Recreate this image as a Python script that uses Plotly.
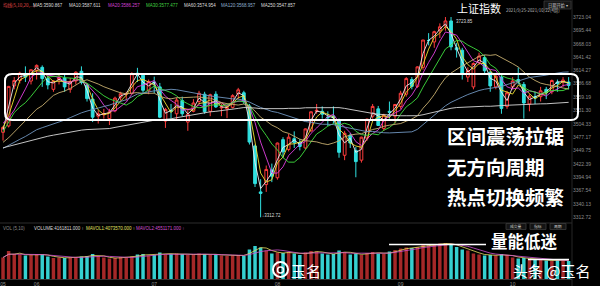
import plotly.graph_objects as go
import pandas as pd

# ---------------- data (daily) ----------------
dates = ["05-24","05-25","05-26","05-27","05-28","05-31",
 "06-01","06-02","06-03","06-04","06-07","06-08","06-09","06-10","06-11","06-15","06-16","06-17","06-18","06-21","06-22","06-23","06-24","06-25","06-28","06-29","06-30",
 "07-01","07-02","07-05","07-06","07-07","07-08","07-09","07-12","07-13","07-14","07-15","07-16","07-19","07-20","07-21","07-22","07-23","07-26","07-27","07-28","07-29","07-30",
 "08-02","08-03","08-04","08-05","08-06","08-09","08-10","08-11","08-12","08-13","08-16","08-17","08-18","08-19","08-20","08-23","08-24","08-25","08-26","08-27","08-30","08-31",
 "09-01","09-02","09-03","09-06","09-07","09-08","09-09","09-10","09-13","09-14","09-15","09-16","09-17","09-22","09-23","09-24","09-27","09-28","09-29","09-30",
 "10-08","10-11","10-12","10-13","10-14","10-15","10-18","10-19","10-20","10-21","10-22"]

opens = [3487, 3500, 3582, 3593, 3604, 3592,
 3614, 3620, 3597, 3575, 3595, 3598, 3575, 3592, 3612, 3584, 3555, 3520, 3523, 3515, 3531, 3559, 3565, 3566, 3608, 3604, 3572,
 3590, 3580, 3510, 3532, 3525, 3552, 3508, 3530, 3550, 3565, 3530, 3565, 3537, 3535, 3538, 3566, 3568, 3541, 3459, 3365, 3380, 3410,
 3394, 3472, 3452, 3474, 3466, 3455, 3490, 3530, 3530, 3518, 3520, 3512, 3440, 3481, 3450, 3430, 3475, 3520, 3535, 3495, 3530, 3520,
 3540, 3565, 3595, 3581, 3620, 3675, 3672, 3695, 3705, 3715, 3660, 3655, 3600, 3580, 3630, 3640, 3610, 3580, 3600, 3540,
 3580, 3595, 3585, 3545, 3560, 3560, 3575, 3570, 3590, 3590, 3590]

highs = [3500, 3582, 3600, 3611, 3622, 3616,
 3626, 3624, 3602, 3594, 3608, 3605, 3598, 3612, 3622, 3587, 3567, 3532, 3535, 3535, 3560, 3570, 3570, 3610, 3619, 3606, 3595,
 3601, 3588, 3537, 3545, 3558, 3560, 3535, 3555, 3572, 3570, 3566, 3571, 3545, 3540, 3565, 3578, 3572, 3545, 3462, 3391, 3419, 3423,
 3466, 3477, 3484, 3489, 3473, 3495, 3530, 3545, 3540, 3530, 3540, 3515, 3490, 3485, 3457, 3478, 3515, 3545, 3541, 3525, 3550, 3545,
 3572, 3600, 3600, 3622, 3676, 3690, 3695, 3710, 3723, 3723, 3670, 3660, 3620, 3630, 3650, 3645, 3612, 3605, 3605, 3572,
 3600, 3620, 3590, 3565, 3570, 3580, 3580, 3595, 3595, 3600, 3600]

lows = [3470, 3497, 3575, 3587, 3590, 3585,
 3595, 3580, 3575, 3570, 3585, 3570, 3568, 3585, 3585, 3550, 3508, 3505, 3515, 3502, 3528, 3552, 3552, 3566, 3590, 3568, 3565,
 3567, 3516, 3496, 3515, 3512, 3520, 3490, 3528, 3545, 3525, 3520, 3537, 3520, 3516, 3536, 3555, 3545, 3462, 3375, 3313, 3365, 3385,
 3390, 3435, 3448, 3455, 3450, 3452, 3488, 3525, 3515, 3500, 3505, 3435, 3430, 3455, 3395, 3425, 3470, 3515, 3500, 3490, 3515, 3505,
 3535, 3560, 3575, 3578, 3615, 3665, 3660, 3680, 3695, 3655, 3640, 3595, 3590, 3575, 3625, 3605, 3570, 3575, 3525, 3535,
 3575, 3585, 3515, 3530, 3545, 3550, 3555, 3565, 3570, 3580, 3575]

closes = [3497, 3581, 3593, 3608, 3600, 3615,
 3624, 3597, 3584, 3592, 3599, 3580, 3591, 3610, 3589, 3556, 3518, 3525, 3525, 3529, 3557, 3566, 3566, 3607, 3606, 3573, 3591,
 3588, 3518, 3534, 3530, 3553, 3525, 3524, 3547, 3567, 3529, 3564, 3539, 3539, 3537, 3562, 3574, 3550, 3467, 3382, 3362, 3411, 3397,
 3465, 3447, 3477, 3466, 3458, 3494, 3529, 3532, 3524, 3517, 3517, 3446, 3485, 3465, 3427, 3477, 3514, 3540, 3501, 3522, 3528, 3544,
 3567, 3597, 3581, 3621, 3676, 3675, 3693, 3703, 3715, 3662, 3656, 3608, 3613, 3628, 3643, 3613, 3582, 3602, 3536, 3568,
 3592, 3591, 3547, 3561, 3558, 3572, 3568, 3593, 3587, 3594, 3583]

volumes = [4300, 5600, 5000, 4900, 4700, 4800,
 5000, 4900, 4500, 4200, 4300, 4200, 4300, 4400, 4500, 4600, 5000, 4600, 4300, 4100, 4200, 4400, 4300, 4500, 4900, 5000, 4700,
 4800, 5300, 4900, 5000, 5100, 5000, 4800, 4900, 5100, 5000, 4800, 5000, 4700, 4600, 4700, 4800, 4600, 5900, 6600, 6300, 5700, 5100,
 5300, 5200, 5400, 5100, 4800, 5300, 5600, 5500, 5100, 4900, 5000, 5700, 5400, 4900, 5100, 4800, 5200, 5400, 5100, 5000, 5500, 5800,
 6100, 6300, 6200, 6400, 6900, 6700, 7000, 7100, 7200, 6900, 6400, 5900, 5700, 5100, 4900, 4700, 4800, 4700, 5000, 4800,
 4300, 4100, 4200, 4000, 3900, 3800, 3700, 3600, 3900, 3700, 3600]

# closes before the visible window (only used to warm up the moving averages)
history_closes = [3418, 3435, 3457, 3441, 3466, 3484, 3483, 3450, 3482, 3479,
 3450, 3412, 3396, 3416, 3426, 3399, 3426, 3472, 3477, 3472,
 3465, 3474, 3441, 3446, 3457, 3447, 3441, 3418, 3428, 3447,
 3427, 3442, 3490, 3430, 3429, 3517, 3529, 3510, 3506, 3486]

ma_names = ["MA5", "MA10", "MA20", "MA30", "MA60", "MA120", "MA250"]
ma_windows = [2, 3, 5, 8, 15, 30, 60]
ma_colors = ["#eeeeee", "#f0e030", "#e040e0", "#40e040", "#c8b070", "#6f95c0", "#d8d8d8"]

month_ticks = [0, 6, 27, 49, 71, 91]
month_labels = ["05", "06", "07", "08", "09", "10"]

price_ticks = [3723.04, 3695.44, 3668.03, 3641.42, 3614.27, 3586.68, 3559.19, 3531.30,
               3504.33, 3477.17, 3449.75, 3422.39, 3394.94, 3367.54, 3340.13, 3312.72]

n = len(dates)
for arr in (opens, highs, lows, closes, volumes):
    assert len(arr) == n, len(arr)

idx = list(range(n))
W, H = 600, 286
CJK = "Noto Sans CJK SC"


def px(xp):
    return xp / W


def py(yp):
    return 1 - yp / H


fig = go.Figure()

fig.add_trace(go.Candlestick(
    x=idx, open=opens, high=highs, low=lows, close=closes,
    increasing=dict(line=dict(color="#ff3c3c", width=1), fillcolor="#000000"),
    decreasing=dict(line=dict(color="#30e0e0", width=1), fillcolor="#30e0e0"),
    whiskerwidth=0, xaxis="x", yaxis="y", showlegend=False, hoverinfo="skip"))

full = pd.Series(history_closes + closes, dtype=float)
off = len(history_closes)
for name, w, c in zip(ma_names, ma_windows, ma_colors):
    ma = full.rolling(w, min_periods=1).mean().iloc[off:].tolist()
    fig.add_trace(go.Scatter(x=idx, y=ma, mode="lines", line=dict(color=c, width=0.9),
                             xaxis="x", yaxis="y", showlegend=False, hoverinfo="skip"))

vol_colors = ["#a52828" if c >= o else "#35d0d0" for o, c in zip(opens, closes)]
fig.add_trace(go.Bar(x=idx, y=volumes, marker=dict(color=vol_colors, line=dict(width=0)),
                     width=0.62, xaxis="x2", yaxis="y2", showlegend=False, hoverinfo="skip"))
vs = pd.Series(volumes, dtype=float)
fig.add_trace(go.Scatter(x=idx, y=vs.rolling(3, min_periods=1).mean().tolist(), mode="lines",
                         line=dict(color="#e8e060", width=0.8), xaxis="x2", yaxis="y2",
                         showlegend=False, hoverinfo="skip"))
fig.add_trace(go.Scatter(x=idx, y=vs.rolling(6, min_periods=1).mean().tolist(), mode="lines",
                         line=dict(color="#d050d0", width=0.8), xaxis="x2", yaxis="y2",
                         showlegend=False, hoverinfo="skip"))

xr = [-0.54, 101.6]
xdom = [0, 572 / W]
fig.update_layout(
    width=W, height=H, margin=dict(l=0, r=0, t=0, b=0),
    paper_bgcolor="#000000", plot_bgcolor="#000000",
    bargap=0.3,
    xaxis=dict(domain=xdom, range=xr, anchor="y", showticklabels=False, showgrid=False,
               zeroline=False, rangeslider=dict(visible=False), fixedrange=True),
    yaxis=dict(domain=[py(222), py(12)], range=[3303.4, 3733.3], side="right",
               tickvals=price_ticks, ticktext=[f"{v:.2f}" for v in price_ticks],
               tickfont=dict(size=5, color="#8c8c8c", family="Arial"), showgrid=False,
               zeroline=False, ticks="", anchor="x"),
    xaxis2=dict(domain=xdom, range=xr, anchor="y2", tickvals=month_ticks, ticktext=month_labels,
                tickfont=dict(size=5, color="#8c8c8c", family="Arial"), showgrid=False,
                zeroline=False, ticks="", ticklabelstandoff=1),
    yaxis2=dict(domain=[py(279), py(234)], range=[0, 9000], side="right", showticklabels=False,
                showgrid=False, zeroline=False, anchor="x2"),
)

shapes = []
# pane separators
shapes.append(dict(type="line", xref="paper", yref="paper", x0=0, x1=px(572), y0=py(223), y1=py(223),
                   line=dict(color="#2c2c2c", width=1)))
shapes.append(dict(type="line", xref="paper", yref="paper", x0=px(572), x1=px(572), y0=0, y1=1,
                   line=dict(color="#262626", width=1)))
shapes.append(dict(type="line", xref="paper", yref="paper", x0=0, x1=px(572), y0=py(279.5), y1=py(279.5),
                   line=dict(color="#333333", width=1)))

# rounded highlight rectangle
x0, x1, y0, y1, r = 5, 578, 74, 120, 7
rx, ry = r / W, r / H
X0, X1, Yt, Yb = px(x0), px(x1), py(y0), py(y1)
path = (f"M {X0+rx},{Yt} L {X1-rx},{Yt} Q {X1},{Yt} {X1},{Yt-ry} "
        f"L {X1},{Yb+ry} Q {X1},{Yb} {X1-rx},{Yb} L {X0+rx},{Yb} Q {X0},{Yb} {X0},{Yb+ry} "
        f"L {X0},{Yt-ry} Q {X0},{Yt} {X0+rx},{Yt} Z")
shapes.append(dict(type="path", xref="paper", yref="paper", path=path,
                   line=dict(color="#ffffff", width=2)))

# volume annotation lines
shapes.append(dict(type="line", xref="paper", yref="paper", x0=px(389), x1=px(486), y0=py(244.5), y1=py(244.5),
                   line=dict(color="#ffffff", width=1.5)))
shapes.append(dict(type="line", xref="paper", yref="paper", x0=px(528), x1=px(569), y0=py(259.5), y1=py(259.5),
                   line=dict(color="#ffffff", width=1.5)))

# weibo-like logo
shapes.append(dict(type="circle", xref="paper", yref="paper", x0=px(273), x1=px(288), y0=py(277), y1=py(262),
                   line=dict(color="#ffffff", width=2)))
shapes.append(dict(type="circle", xref="paper", yref="paper", x0=px(277.5), x1=px(283.5), y0=py(273), y1=py(267),
                   line=dict(color="#ffffff", width=1.5)))

# small buttons
shapes.append(dict(type="rect", xref="paper", yref="paper", x0=px(544), x1=px(571), y0=py(9), y1=py(1),
                   line=dict(color="#3a3a3a", width=0.8), fillcolor="#141414"))
btn_boxes = [(506, 526), (530, 546), (550, 566)]
for bx0, bx1 in btn_boxes:
    shapes.append(dict(type="rect", xref="paper", yref="paper", x0=px(bx0), x1=px(bx1), y0=py(229.5), y1=py(223.5),
                       line=dict(color="#3a3a3a", width=0.8), fillcolor="#141414"))
fig.update_layout(shapes=shapes)

ann = []


def txt(x, y, s, size, color="#ffffff", xanchor="left", family=CJK, bold=False):
    if bold:
        s = f"<b>{s}</b>"
    ann.append(dict(x=px(x), y=py(y), xref="paper", yref="paper", text=s, showarrow=False,
                    xanchor=xanchor, yanchor="middle", borderpad=0,
                    font=dict(size=size, color=color, family=family)))


# price header
txt(2, 5.5, "均线(5,10,20,...)", 4.5, "#e04848")
hdr_vals = ["3590.867", "3587.611", "3586.257", "3577.477", "3574.954", "3568.957", "3547.857"]
hdr_x = [32, 68, 107, 145, 183, 220, 260]
hdr_cols = ["#dddddd", "#dddddd", "#d040d0", "#40d040", "#dddddd", "#8fb0d0", "#dddddd"]
for name, v, xx, c in zip(ma_names, hdr_vals, hdr_x, hdr_cols):
    txt(xx, 5.5, f"{name}:{v}", 4.5, c, family="Arial")

txt(456, 8.5, "上证指数", 11, "#ffffff")
txt(505, 11, "2021/9/25-2021/10/22(4周)", 4.3, "#bbbbbb")
txt(557.5, 5, "日期开始 ▾", 4.2, "#cccccc", xanchor="center")

# extreme labels
txt(455, 21, "3723.85", 4.5, "#dddddd", family="Arial")
txt(261, 215, "↓3312.72", 4.5, "#dddddd", family="Arial")

# volume header
txt(2, 228, "VOL (5,10)", 4.5, "#888888", family="Arial")
txt(33, 228, "VOLUME:4161811.000 ↑", 4.5, "#dddddd", family="Arial")
txt(85, 228, "MAVOL1:4073570.000 ↑", 4.5, "#e0e060", family="Arial")
txt(135, 228, "MAVOL2:4551171.000 ↑", 4.5, "#d050d0", family="Arial")
for (bx0, bx1), lab in zip(btn_boxes, ["成交量", "指标", "周期"]):
    txt((bx0 + bx1) / 2, 226.5, lab, 3.8, "#cccccc", xanchor="center")

# commentary
txt(446, 135, "区间震荡拉锯", 19.5, "#ffffff", bold=True)
txt(446, 166, "无方向周期", 19.5, "#ffffff", bold=True)
txt(446, 196, "热点切换频繁", 19.5, "#ffffff", bold=True)
txt(490, 241, "量能低迷", 16.5, "#ffffff", bold=True)

# watermarks
txt(290, 270, "玉名", 15, "#ffffff")
txt(512, 270, "头条 @玉名", 15, "#ffffff")

fig.update_layout(annotations=ann)

fig.write_html("out.html")
